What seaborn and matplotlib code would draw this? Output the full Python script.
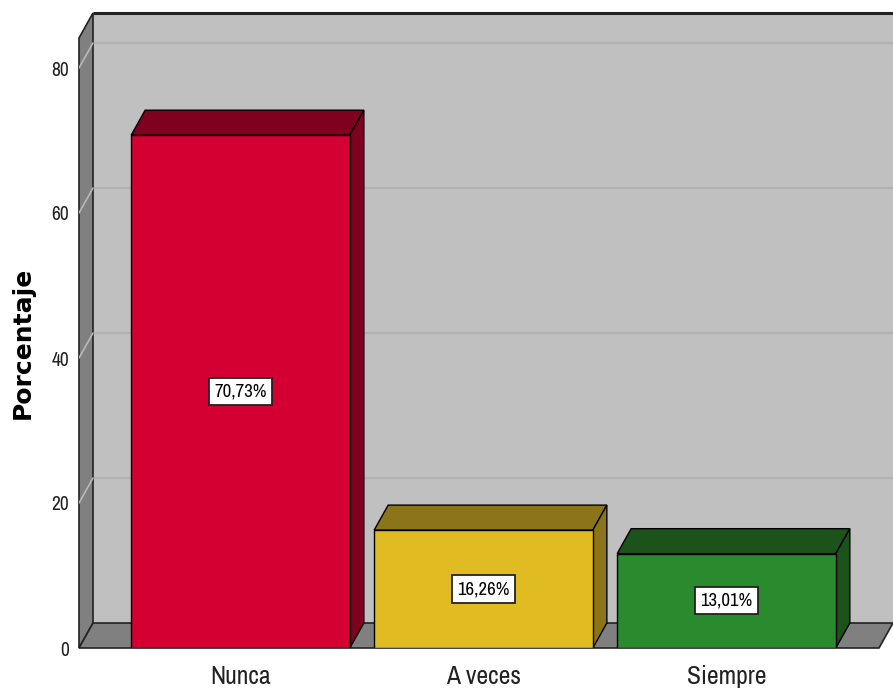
import matplotlib
matplotlib.use("Agg")
import matplotlib.pyplot as plt
from matplotlib.patches import Polygon
from matplotlib import font_manager as fm
import seaborn as sns
import pandas as pd

categories = ["Nunca", "A veces", "Siempre"]
values = [70.73, 16.26, 13.01]
front_colors = ["#d50032", "#e0bc22", "#2a8a2e"]
top_colors = ["#80001f", "#8c7418", "#1b531b"]
yticks = [0, 20, 40, 60, 80]

sns.set_theme(style="white")
plt.rcParams["font.family"] = ["Liberation Sans", "DejaVu Sans"]

# pick a narrow font if one is available
narrow_file = None
cands = []
for f in fm.fontManager.ttflist:
    nm = f.name.lower()
    fn = f.fname.lower()
    if f.weight in (400, "normal", "regular") and f.style == "normal":
        if "narrow" in nm or "narrow" in fn:
            cands.append((0, f.fname))
        elif ("condensed" in fn or str(f.stretch) == "condensed") and "bold" not in fn and "oblique" not in fn:
            cands.append((1, f.fname))
cands.sort()
if cands:
    narrow_file = cands[0][1]


def fp(size):
    if narrow_file:
        return fm.FontProperties(fname=narrow_file, size=size)
    return fm.FontProperties(family="Liberation Sans", size=size * 0.85)


W, H = 893, 693
fig = plt.figure(figsize=(W / 100, H / 100), dpi=100)
ax = fig.add_axes([79 / W, 45 / H, 814 / W, 635 / H])

# geometry (data units)
x0 = (79 - 240.5) / 243
x1 = (893 - 240.5) / 243
xf = (879 - 240.5) / 243
ytop = 635 / 7.25
dx = 14 / 243
dy = 25 / 7.25

df = pd.DataFrame({"cat": categories, "val": values})
sns.barplot(data=df, x="cat", y="val", hue="cat", palette=front_colors,
            width=0.9, edgecolor="black", linewidth=1.0, legend=False,
            saturation=1, ax=ax)
for p in ax.patches:
    p.set_zorder(6)

# back wall
ax.add_patch(Polygon([(x0 + dx, dy), (x1, dy), (x1, ytop), (x0 + dx, ytop)],
                     closed=True, facecolor="#c0c0c0", edgecolor="none", zorder=0))
ax.plot([x0 + dx, x1], [ytop, ytop], color="#222222", lw=2.2, zorder=3, clip_on=False,
        solid_capstyle="butt")
# gridlines on back wall
for v in yticks[1:]:
    ax.plot([x0 + dx, x1], [v + dy, v + dy], color="#b2b2b2", lw=1.6, zorder=1)
# left wall
ax.add_patch(Polygon([(x0, 0), (x0 + dx, dy), (x0 + dx, ytop), (x0, ytop - dy)],
                     closed=True, facecolor="#808080", edgecolor="#222222", lw=1.2,
                     zorder=2, clip_on=False))
for v in yticks[1:]:
    ax.plot([x0, x0 + dx], [v, v + dy], color="#b8b8b8", lw=1.2, zorder=2.5)
# floor
ax.add_patch(Polygon([(x0, 0), (xf, 0), (x1, dy), (x0 + dx, dy)],
                     closed=True, facecolor="#808080", edgecolor="#222222", lw=1.2,
                     zorder=2, clip_on=False))

# 3D faces of bars and value labels
for i, (v, tc) in enumerate(zip(values, top_colors)):
    l, r = i - 0.45, i + 0.45
    ax.add_patch(Polygon([(l, v), (r, v), (r + dx, v + dy), (l + dx, v + dy)],
                         closed=True, facecolor=tc, edgecolor="black", lw=1.0, zorder=5))
    ax.add_patch(Polygon([(r, 0), (r + dx, dy), (r + dx, v + dy), (r, v)],
                         closed=True, facecolor=tc, edgecolor="black", lw=1.0, zorder=5))
    lab = f"{v:.2f}%".replace(".", ",")
    ax.text(i, v / 2, lab, ha="center", va="center", fontproperties=fp(13.5),
            color="black", zorder=8,
            bbox=dict(boxstyle="square,pad=0.3", facecolor="white",
                      edgecolor="#222222", lw=1.3))

ax.set_xlim(x0, x1)
ax.set_ylim(0, ytop)
ax.set_yticks(yticks)
ax.set_yticklabels([str(t) for t in yticks])
for t in ax.get_yticklabels():
    t.set_fontproperties(fp(14))
ax.set_xticks(range(len(categories)))
ax.set_xticklabels(categories)
for t in ax.get_xticklabels():
    t.set_fontproperties(fp(18.5))
ax.tick_params(axis="x", length=0, pad=12, colors="#222222")
ax.tick_params(axis="y", length=0, pad=7, colors="#222222")
ax.set_xlabel("")
ax.set_ylabel("Porcentaje", fontsize=18, fontweight="bold", family=["DejaVu Sans"],
              color="black")
ax.yaxis.set_label_coords(-44 / 814, (648 - 343) / 635)
for s in ax.spines.values():
    s.set_visible(False)
ax.grid(False)
ax.set_facecolor("white")

fig.savefig("out.png", dpi=100)
